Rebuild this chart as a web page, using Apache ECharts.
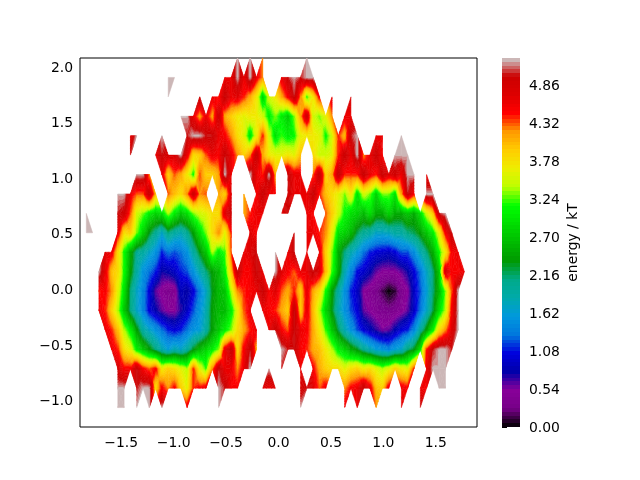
<!DOCTYPE html>
<html><head><meta charset="utf-8">
<script src="https://cdn.jsdelivr.net/npm/echarts@6/dist/echarts.min.js"></script>
<style>html,body{margin:0;padding:0;background:#fff}#c{width:640px;height:480px}</style>
</head><body><div id="c"></div>
<script>
const _ = null;
const xMin = -1.893, xMax = 1.893, yMin = -1.241, yMax = 2.077, colCount = 64;
const xTicks = [-1.5,-1,-0.5,0,0.5,1,1.5];
const yTicks = [-1,-0.5,0,0.5,1,1.5,2];
const barTicks = [0,0.54,1.08,1.62,2.16,2.70,3.24,3.78,4.32,4.86];
const levelStep = 0.054, levelCount = 97;
const row00 = [];
const row01 = [_,_,_,_,_,_,5.2,5.2,_,5.2, _,5.2,_,5.2,_,_,_,4.6,_,_, _,_,5.2,_,_,_,_,_,_,_, _,_,_,_,_,5.2,_,_,_,_, _,_,4.6,_,4.6,_,_,4.2,_,_, _,4.7,_,_,5.0,_,_,_,_,_, _,_,_,_];
const row02 = [_,_,_,_,_,_,5.2,5.2,_,5.0, 5.2,5.2,3.8,4.5,4.2,4.5,3.9,3.6,4.4,4.5, 4.6,_,5.2,5.0,4.5,4.5,_,_,_,4.7, 4.6,4.7,_,_,_,4.8,5.0,4.7,4.3,4.6, _,_,4.2,4.5,4.6,5.0,4.6,4.0,3.9,4.6, _,4.6,4.5,_,4.6,4.5,_,5.2,5.2,_, _,_,_,_];
const row03 = [_,_,_,_,_,_,4.8,4.5,4.5,5.0, 4.5,4.3,4.5,3.7,3.9,3.8,3.6,3.4,4.4,3.6, 3.2,4.2,5.0,4.6,4.6,4.2,4.6,5.2,_,_, 5.2,_,5.0,_,_,4.6,_,4.5,4.1,3.9, 3.8,3.8,3.6,3.8,3.9,3.7,3.8,3.6,3.4,3.6, 3.9,3.7,3.6,4.4,_,4.6,5.2,5.2,5.2,_, _,_,_,_];
const row04 = [_,_,_,_,_,4.6,4.4,3.8,3.6,3.0, 2.7,2.4,2.1,1.8,1.6,1.8,1.7,1.9,2.3,2.6, 2.8,3.0,3.3,4.6,5.0,3.8,4.5,5.0,4.1,_, _,_,5.2,5.0,5.0,4.5,4.4,4.1,4.0,3.7, 3.4,3.0,2.8,2.5,2.3,2.0,1.8,1.6,1.5,1.4, 1.6,1.7,2.1,2.3,2.9,4.4,5.0,5.2,5.2,5.0, _,_,_,_];
const row05 = [_,_,_,_,4.6,4.4,4.0,3.4,3.0,2.4, 1.9,1.7,1.5,1.3,1.1,1.0,1.1,1.3,1.5,1.6, 1.9,2.4,2.7,3.0,3.3,3.8,4.1,4.4,4.6,_, 4.6,5.0,4.5,4.3,5.0,4.6,4.5,4.1,3.7,3.2, 2.7,2.2,1.8,1.5,1.2,1.0,0.85,0.7,0.55,0.6, 0.8,1.0,1.1,1.4,1.9,2.4,3.0,3.8,4.2,4.7, 5.2,_,_,_];
const row06 = [_,_,_,4.6,4.4,3.9,3.4,2.7,2.1,1.7, 1.4,1.0,0.8,0.6,0.5,0.5,0.7,0.9,1.2,1.5, 1.8,2.4,2.6,2.6,3.0,3.6,4.3,4.6,_,4.6, 4.5,4.4,4.1,3.9,5.0,3.9,4.6,4.0,3.4,2.8, 2.3,1.8,1.5,1.2,1.0,0.6,0.5,0.4,0.35,0.3, 0.35,0.45,0.6,0.9,1.3,1.7,2.2,2.9,3.4,4.5, 5.2,_,_,_];
const row07 = [_,_,_,4.4,4.5,4.2,3.6,2.9,2.1,1.7, 1.4,1.0,0.6,0.45,0.35,0.4,0.85,0.75,1.0,1.35, 1.7,2.3,2.6,2.7,3.4,4.2,4.4,4.5,4.6,5.0, 4.5,4.7,4.3,4.1,4.4,3.9,4.6,4.1,3.8,3.1, 2.4,1.9,1.5,1.1,0.9,0.5,0.4,0.3,0.15,0, 0.1,0.35,0.5,0.9,1.2,1.6,2.1,2.6,3.3,4.3, 5.2,_,_,_];
const row08 = [_,_,_,5.2,4.6,4.0,3.8,3.1,2.4,1.9, 1.5,1.3,1.1,0.75,0.8,0.9,1.1,1.2,1.5,1.8, 2.1,2.4,2.6,3.0,3.9,5.0,4.5,4.5,5.0,4.6, _,5.2,4.7,4.5,4.3,4.6,4.6,5.0,4.7,4.0, 3.2,2.5,1.8,1.4,1.05,0.95,0.8,0.6,0.5,0.5, 0.5,0.6,0.75,1.0,1.3,1.7,2.1,2.7,4.8,4.5, 4.5,4.6,_,_];
const row09 = [_,_,_,_,4.7,4.6,3.8,3.1,2.5,2.0, 1.9,1.7,1.5,1.1,1.3,1.2,1.3,1.5,1.9,2.3, 2.7,3.4,3.0,3.2,4.3,_,4.6,4.7,5.0,_, _,5.2,_,4.6,5.0,_,4.6,_,4.6,3.9, 3.3,2.5,2.1,1.8,1.6,1.3,1.1,1.0,0.95,0.9, 1.0,1.2,1.2,1.45,1.8,2.1,2.5,3.1,3.7,4.5, 4.6,_,_,_];
const row10 = [_,5.2,5.2,4.6,_,_,4.6,3.8,3.9,3.3, 2.8,2.3,2.0,1.7,2.1,1.9,1.8,2.0,2.4,2.9, 3.3,3.8,4.2,3.6,4.4,_,_,4.7,4.5,_, _,_,_,_,5.0,_,4.6,4.6,4.4,4.2, 3.6,2.9,2.8,2.6,2.2,2.0,1.9,1.7,1.7,1.75, 1.9,1.9,2.1,2.2,2.4,2.7,3.0,3.6,4.5,5.0, _,_,_,_];
const row11 = [_,5.2,_,_,_,_,5.0,4.9,4.3,3.5, 3.3,3.0,2.8,2.9,3.4,3.0,2.7,2.9,3.3,3.5, 3.6,3.8,3.8,4.7,5.0,_,4.1,4.4,4.6,4.6, _,_,4.7,5.0,_,_,4.6,4.5,_,4.3, 3.9,3.5,3.1,2.9,2.8,2.6,2.9,2.5,2.5,2.8, 2.5,2.5,2.7,2.5,2.9,3.5,3.9,5.0,5.2,_, _,_,_,_];
const row12 = [_,_,_,_,_,_,5.2,5.2,4.6,4.3, 4.3,5.0,4.0,_,4.3,4.0,3.8,4.2,4.9,4.2, 4.3,_,4.1,3.9,4.7,_,4.1,_,4.5,5.0, 4.6,4.5,_,4.9,4.6,4.6,4.6,5.0,4.4,4.0, 3.8,3.6,3.3,3.7,2.9,3.5,3.3,2.8,3.3,3.3, 2.9,4.1,5.0,4.5,_,5.2,5.2,_,_,_, _,_,_,_];
const row13 = [_,_,_,_,_,_,_,_,_,5.2, 5.2,4.2,_,4.6,3.9,4.3,4.1,3.7,3.1,4.3, 3.9,3.9,4.1,5.2,4.6,_,_,5.2,4.6,4.4, 5.2,4.1,_,5.0,4.6,4.6,_,4.3,5.0,3.9, 4.1,5.0,4.4,4.4,4.4,5.0,4.6,4.4,5.0,4.7, 4.9,4.6,5.2,5.2,_,4.6,_,_,_,_, _,_,_,_];
const row14 = [_,_,_,_,_,_,_,_,5.0,_, _,_,4.6,5.0,4.8,4.8,5.2,4.6,3.8,3.9, 4.3,4.6,4.5,5.0,4.6,4.2,3.9,4.2,5.0,4.1, 3.7,3.6,3.6,3.7,3.6,4.0,_,3.8,3.5,3.5, 3.6,4.4,5.0,4.6,5.2,4.2,4.6,5.0,4.5,_, 5.2,5.2,5.2,_,_,_,_,_,_,_, _,_,_,_];
const row15 = [_,_,_,_,_,_,_,_,4.6,5.2, _,_,_,5.2,_,_,_,5.0,5.2,5.2, 5.0,5.0,4.6,4.5,4.2,3.8,3.6,2.9,3.6,4.4, 3.5,2.9,3.2,3.0,3.1,3.6,3.7,3.7,3.6,3.1, 3.5,4.4,4.0,5.0,5.2,_,_,4.6,4.6,_, _,5.2,_,_,_,_,_,_,_,_, _,_,_,_];
const row16 = [_,_,_,_,_,_,_,_,_,_, _,_,_,_,_,_,5.2,5.2,4.6,4.1, 4.6,4.1,4.9,4.1,3.9,3.7,3.6,3.7,3.7,3.5, 3.0,3.3,3.0,2.75,3.3,4.1,4.9,3.5,3.3,3.6, 4.2,_,4.6,4.6,_,_,4.8,_,_,_, _,_,_,_,_,_,_,_,_,_, _,_,_,_];
const row17 = [_,_,_,_,_,_,_,_,_,_, _,_,_,_,5.2,_,_,_,_,5.0, _,4.6,4.4,5.0,4.6,4.7,4.4,4.1,3.7,2.8, 3.5,3.7,4.1,4.5,5.0,4.2,3.2,3.7,4.5,_, 4.7,_,_,4.8,_,_,_,_,_,_, _,_,_,_,_,_,_,_,_,_, _,_,_,_];
const row18 = [_,_,_,_,_,_,_,_,_,_, _,_,_,_,5.2,5.2,_,_,_,_, _,_,_,4.6,4.6,5.2,4.6,5.2,4.6,4.2, _,_,4.6,5.0,5.2,5.0,5.2,5.2,_,_, 5.1,_,_,_,_,_,_,_,_,_, _,_,_,_,_,_,_,_,_,_, _,_,_,_];
const row19 = [_,_,_,_,_,_,_,_,_,_, _,_,_,_,_,_,_,_,_,_, _,_,_,_,_,5.2,_,5.2,_,4.2, _,_,_,_,_,_,5.2,_,_,_, _,_,_,_,_,_,_,_,_,_, _,_,_,_,_,_,_,_,_,_, _,_,_,_];
const rows = [row00,row01,row02,row03,row04,row05,row06,row07,row08,row09,row10,row11,row12,row13,row14,row15,row16,row17,row18,row19];

const lut = [[0,0,0,0],[.05,.4667,0,.5333],[.1,.5333,0,.6],[.15,0,0,.6667],[.2,0,0,.8667],[.25,0,.4667,.8667],[.3,0,.6,.8667],[.35,0,.6667,.6667],[.4,0,.6667,.5333],[.45,0,.6,0],[.5,0,.7333,0],[.55,0,.8667,0],[.6,0,1,0],[.65,.7333,1,0],[.7,.9333,.9333,0],[.75,1,.8,0],[.8,1,.6,0],[.85,1,0,0],[.9,.8667,0,0],[.95,.8,0,0],[1,.8,.8,.8]];
function spectral(t){
  t=Math.max(0,Math.min(1,t));
  let i=0; while(i<lut.length-2 && t>lut[i+1][0]) i++;
  const a=lut[i],b=lut[i+1],f=(t-a[0])/(b[0]-a[0]);
  const c=k=>Math.round(255*(a[k]+(b[k]-a[k])*f));
  return `rgb(${c(1)},${c(2)},${c(3)})`;
}
const vTop = levelStep*levelCount;
const bandColors = [];
for(let k=0;k<levelCount;k++) bandColors.push(spectral((k+0.5)/levelCount));

const xAt = j => xMin + (xMax-xMin)*j/(colCount-1);
const yAt = r => yMin + (yMax-yMin)*r/(rows.length-1);
const val = (r,j) => { const v = rows[r][j]; return (v===null||v===undefined)?null:v; };

const tris = [];
for(let r=0;r<rows.length-1;r++) for(let j=0;j<colCount-1;j++){
  const pts=[[j,r],[j+1,r],[j+1,r+1],[j,r+1]].map(p=>[xAt(p[0]),yAt(p[1]),val(p[1],p[0])]);
  const ok=pts.filter(p=>p[2]!==null);
  if(ok.length===3) tris.push(ok);
  else if(ok.length===4){
    const c=[(pts[0][0]+pts[1][0])/2,(pts[0][1]+pts[2][1])/2,(pts[0][2]+pts[1][2]+pts[2][2]+pts[3][2])/4];
    for(let k=0;k<4;k++) tris.push([pts[k],pts[(k+1)%4],c]);
  }
}
function clip(poly,level,keepAbove){
  const out=[];
  for(let i=0;i<poly.length;i++){
    const a=poly[i],b=poly[(i+1)%poly.length];
    const ia=keepAbove?a[2]>=level:a[2]<=level, ib=keepAbove?b[2]>=level:b[2]<=level;
    if(ia) out.push(a);
    if(ia!==ib){const f=(level-a[2])/(b[2]-a[2]);out.push([a[0]+(b[0]-a[0])*f,a[1]+(b[1]-a[1])*f,level]);}
  }
  return out;
}
function renderTri(params,api){
  const t=tris[params.dataIndex];
  const vs=t.map(p=>p[2]);
  const k0=Math.max(0,Math.floor(Math.min(...vs)/levelStep));
  const k1=Math.min(levelCount-1,Math.floor(Math.max(...vs)/levelStep));
  const children=[];
  for(let k=k0;k<=k1;k++){
    let p=clip(t,k*levelStep,true);
    if(p.length>=3) p=clip(p,(k+1)*levelStep,false);
    if(p.length<3) continue;
    children.push({type:'polygon',shape:{points:p.map(q=>api.coord([q[0],q[1]]))},
      style:{fill:bandColors[k],stroke:bandColors[k],lineWidth:0.5}});
  }
  return {type:'group',children};
}
function renderBand(params,api){
  const k=params.dataIndex;
  const a=api.coord([0,k*levelStep]),b=api.coord([1,(k+1)*levelStep]);
  const top=Math.round(b[1]),bot=Math.round(a[1]);
  return {type:'rect',shape:{x:a[0],y:top,width:b[0]-a[0],height:bot-top},style:{fill:bandColors[k]}};
}
const fontCfg={color:'#000',fontFamily:'DejaVu Sans',fontSize:13.9};
const minus=v=>String(v).replace('-','\u2212');
const chart=echarts.init(document.getElementById('c'),null,{renderer:'canvas'});
chart.setOption({
  animation:false,backgroundColor:'#fff',
  grid:[
    {left:80,top:58,width:397,height:369,show:true,borderColor:'#000',borderWidth:1,backgroundColor:'#fff',z:5},
    {left:502,top:58,width:18,height:369,show:false}
  ],
  xAxis:[
    {type:'value',gridIndex:0,min:xMin,max:xMax,axisLine:{show:false},splitLine:{show:false},
     axisTick:{show:true,length:5,lineStyle:{color:'#000',width:1},customValues:xTicks},
     axisLabel:{...fontCfg,margin:9,customValues:xTicks,formatter:v=>minus(Number(v).toFixed(1))}},
    {type:'value',gridIndex:1,min:0,max:1,show:false}
  ],
  yAxis:[
    {type:'value',gridIndex:0,min:yMin,max:yMax,axisLine:{show:false},splitLine:{show:false},
     axisTick:{show:true,length:5,lineStyle:{color:'#000',width:1},customValues:yTicks},
     axisLabel:{...fontCfg,margin:7,verticalAlign:'top',lineHeight:3,customValues:yTicks,formatter:v=>minus(Number(v).toFixed(1))}},
    {type:'value',gridIndex:1,position:'right',min:0,max:vTop,axisLine:{show:false},splitLine:{show:false},
     axisTick:{show:true,length:5,lineStyle:{color:'#000',width:1},customValues:barTicks},
     axisLabel:{...fontCfg,margin:9,verticalAlign:'top',lineHeight:3,customValues:barTicks,formatter:v=>Number(v).toFixed(2)},
     name:'energy / kT',nameLocation:'middle',nameRotate:90,nameGap:46,nameTextStyle:fontCfg}
  ],
  series:[
    {type:'custom',xAxisIndex:0,yAxisIndex:0,renderItem:renderTri,data:tris.map((t,i)=>[i]),silent:true,clip:true,progressive:0,z:6},
    {type:'custom',xAxisIndex:1,yAxisIndex:1,renderItem:renderBand,data:bandColors.map((c,i)=>[i]),silent:true,progressive:0}
  ]
});
</script></body></html>
